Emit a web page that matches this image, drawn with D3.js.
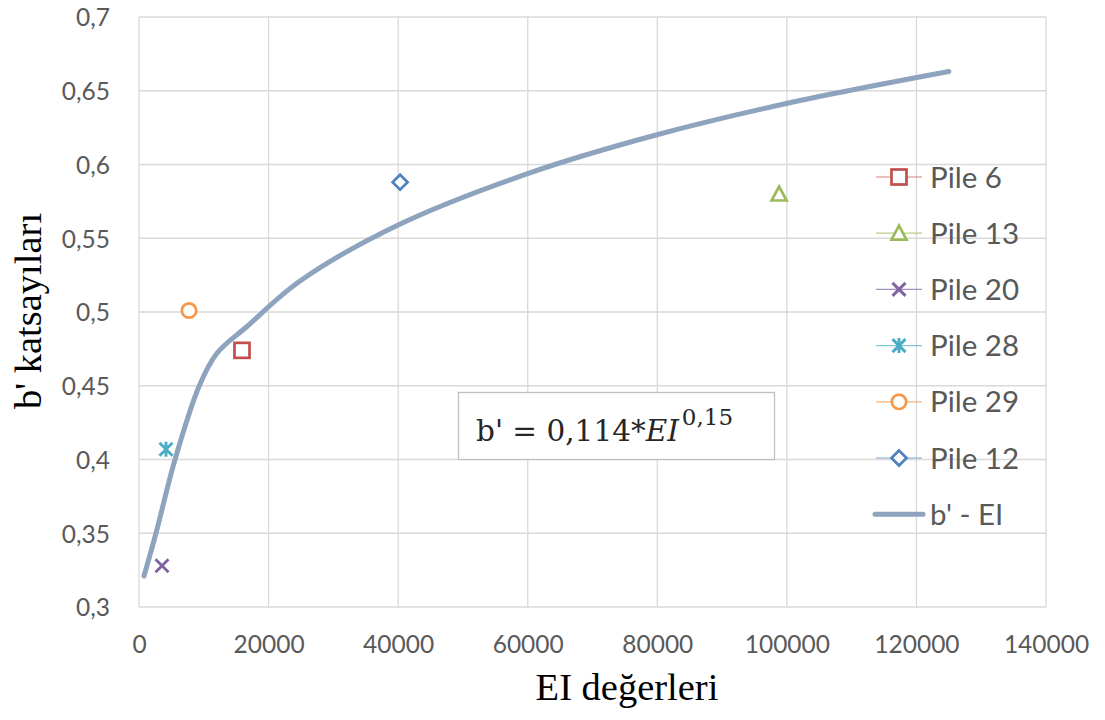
<!DOCTYPE html>
<html>
<head>
<meta charset="utf-8">
<script src="https://cdn.jsdelivr.net/npm/d3@7"></script>
<style>
  html, body { margin: 0; padding: 0; background: #fff; }
  svg { display: block; }
</style>
</head>
<body>
<svg id="chart" width="1105" height="720"></svg>
<script>
// Axis ticks
const xTicks = [0, 20000, 40000, 60000, 80000, 100000, 120000, 140000];
const xTickLabels = ["0", "20000", "40000", "60000", "80000", "100000", "120000", "140000"];
const yTicks = [0.3, 0.35, 0.4, 0.45, 0.5, 0.55, 0.6, 0.65, 0.7];
const yTickLabels = ["0,3", "0,35", "0,4", "0,45", "0,5", "0,55", "0,6", "0,65", "0,7"];

// Measured piles (EI, b')
const pileNames = ["Pile 6", "Pile 13", "Pile 20", "Pile 28", "Pile 29", "Pile 12"];
const pileEI    = [15900, 98800, 3550, 4170, 7720, 40300];
const pileB     = [0.474, 0.580, 0.328, 0.407, 0.501, 0.588];
const pileColors = ["#c0504d", "#9bbb59", "#8064a2", "#4bacc6", "#f79646", "#4f81bd"];
const pileSymbols = ["square", "triangle", "cross", "star", "circle", "diamond"];

// Fitted b' - EI curve
const curveEI = [770, 2620, 5560, 9310, 12030, 16620, 24850, 40000, 60100, 79800, 100100, 125000];
const curveB  = [0.321, 0.350, 0.400, 0.450, 0.472, 0.490, 0.521, 0.559, 0.594, 0.620, 0.6415, 0.663];
const curveName = "b' - EI";

const svg = d3.select("#chart");
const plotL = 139, plotR = 1046, plotT = 17, plotB = 607;

const x = d3.scaleLinear().domain([0, 140000]).range([plotL, plotR]);
const y = d3.scaleLinear().domain([0.3, 0.7]).range([plotB, plotT]);

const gridColor = "#d9d9d9";
const tickFont = "Lato, 'Open Sans', sans-serif";
const curveColor = "#8ea3bd";

// Gridlines
svg.append("g").selectAll("line").data(yTicks).join("line")
  .attr("x1", plotL).attr("x2", plotR)
  .attr("y1", d => y(d)).attr("y2", d => y(d))
  .attr("stroke", gridColor).attr("stroke-width", 1.3);
svg.append("g").selectAll("line").data(xTicks).join("line")
  .attr("y1", plotT).attr("y2", plotB)
  .attr("x1", d => x(d)).attr("x2", d => x(d))
  .attr("stroke", gridColor).attr("stroke-width", 1.3);

// Axes (labels only, lines are the gridlines)
const xAxis = d3.axisBottom(x).tickValues(xTicks).tickSize(0).tickPadding(0)
  .tickFormat((d, i) => xTickLabels[i]);
const gx = svg.append("g").attr("transform", `translate(0,${plotB + 46})`).call(xAxis);
gx.select(".domain").remove();
gx.selectAll("text").attr("dy", 0).attr("y", 0)
  .style("font-family", tickFont).style("font-size", "24.5px").attr("fill", "#595959");

const yAxis = d3.axisLeft(y).tickValues(yTicks).tickSize(0).tickPadding(0)
  .tickFormat((d, i) => yTickLabels[i]);
const gy = svg.append("g").attr("transform", `translate(${plotL - 29},0)`).call(yAxis);
gy.select(".domain").remove();
gy.selectAll("text").attr("x", 0).attr("dy", "0.36em")
  .style("font-family", tickFont).style("font-size", "24.5px").attr("fill", "#595959");

// Curve
const line = d3.line().x(d => x(d[0])).y(d => y(d[1])).curve(d3.curveCatmullRom.alpha(0.5));
svg.append("path")
  .datum(curveEI.map((e, i) => [e, curveB[i]]))
  .attr("d", line)
  .attr("fill", "none").attr("stroke", curveColor).attr("stroke-width", 5)
  .attr("stroke-linecap", "round");

// Marker drawing
function marker(g, type, color, cx, cy) {
  const sw = 2.7, h = 7.5;
  if (type === "square") {
    g.append("rect").attr("x", cx - h).attr("y", cy - h).attr("width", 2 * h).attr("height", 2 * h)
      .attr("fill", "#fff").attr("stroke", color).attr("stroke-width", sw);
  } else if (type === "triangle") {
    g.append("path").attr("d", `M${cx},${cy - 7.5}L${cx + 7.5},${cy + 6.5}L${cx - 7.5},${cy + 6.5}Z`)
      .attr("fill", "#fff").attr("stroke", color).attr("stroke-width", sw).attr("stroke-linejoin", "miter");
  } else if (type === "cross") {
    g.append("path").attr("d", `M${cx - 6.5},${cy - 6.5}L${cx + 6.5},${cy + 6.5}M${cx + 6.5},${cy - 6.5}L${cx - 6.5},${cy + 6.5}`)
      .attr("stroke", color).attr("stroke-width", 2.9);
  } else if (type === "star") {
    g.append("path").attr("d", `M${cx - 6.5},${cy - 6.5}L${cx + 6.5},${cy + 6.5}M${cx + 6.5},${cy - 6.5}L${cx - 6.5},${cy + 6.5}M${cx},${cy - 7.5}L${cx},${cy + 7.5}`)
      .attr("stroke", color).attr("stroke-width", 2.9);
  } else if (type === "circle") {
    g.append("circle").attr("cx", cx).attr("cy", cy).attr("r", 7.2)
      .attr("fill", "#fff").attr("stroke", color).attr("stroke-width", sw);
  } else if (type === "diamond") {
    g.append("path").attr("d", `M${cx},${cy - 7.5}L${cx + 7.5},${cy}L${cx},${cy + 7.5}L${cx - 7.5},${cy}Z`)
      .attr("fill", "#fff").attr("stroke", color).attr("stroke-width", sw);
  }
}

// Pile points
const pts = svg.append("g");
pileNames.forEach((n, i) => {
  marker(pts, pileSymbols[i], pileColors[i], x(pileEI[i]), y(pileB[i]));
});

// Legend
const legend = svg.append("g");
const legY0 = 177, legStep = 56.2, legX = 899;
pileNames.forEach((n, i) => {
  const ly = legY0 + i * legStep;
  legend.append("line").attr("x1", legX - 23).attr("x2", legX + 23).attr("y1", ly).attr("y2", ly)
    .attr("stroke", pileColors[i]).attr("stroke-width", 1.2).attr("opacity", 0.7);
  marker(legend, pileSymbols[i], pileColors[i], legX, ly);
  legend.append("text").attr("x", 930).attr("y", ly).attr("dy", "0.36em")
    .style("font-family", tickFont).style("font-size", "29.5px").attr("fill", "#595959").text(n);
});
{
  const ly = legY0 + 6 * legStep;
  legend.append("line").attr("x1", legX - 24).attr("x2", legX + 24).attr("y1", ly).attr("y2", ly)
    .attr("stroke", curveColor).attr("stroke-width", 5).attr("stroke-linecap", "round");
  legend.append("text").attr("x", 930).attr("y", ly).attr("dy", "0.36em")
    .style("font-family", tickFont).style("font-size", "29.5px").attr("fill", "#595959").text(curveName);
}

// Equation box
const eq = svg.append("g");
eq.append("rect").attr("x", 458.5).attr("y", 392.5).attr("width", 316).attr("height", 67)
  .attr("fill", "#fff").attr("stroke", "#bfbfbf").attr("stroke-width", 1.3);
const et = eq.append("text").attr("x", 476).attr("y", 441)
  .style("font-family", "'DejaVu Serif', serif").style("font-size", "29.5px").attr("fill", "#262626");
et.append("tspan").text("b' = 0,114*");
et.append("tspan").style("font-style", "italic").text("EI");
et.append("tspan").attr("dx", 3).attr("dy", -16).style("font-size", "23px").text("0,15");

// Axis titles
svg.append("text").attr("x", 627).attr("y", 700)
  .attr("text-anchor", "middle")
  .style("font-family", "'Liberation Serif', 'Times New Roman', serif").style("font-size", "38.5px")
  .attr("fill", "#000").text("EI değerleri");
svg.append("text")
  .attr("transform", `translate(41,${311}) rotate(-90)`)
  .attr("text-anchor", "middle")
  .style("font-family", "'Liberation Serif', 'Times New Roman', serif").style("font-size", "38.5px")
  .attr("fill", "#000").text("b' katsayıları");
</script>
</body>
</html>
